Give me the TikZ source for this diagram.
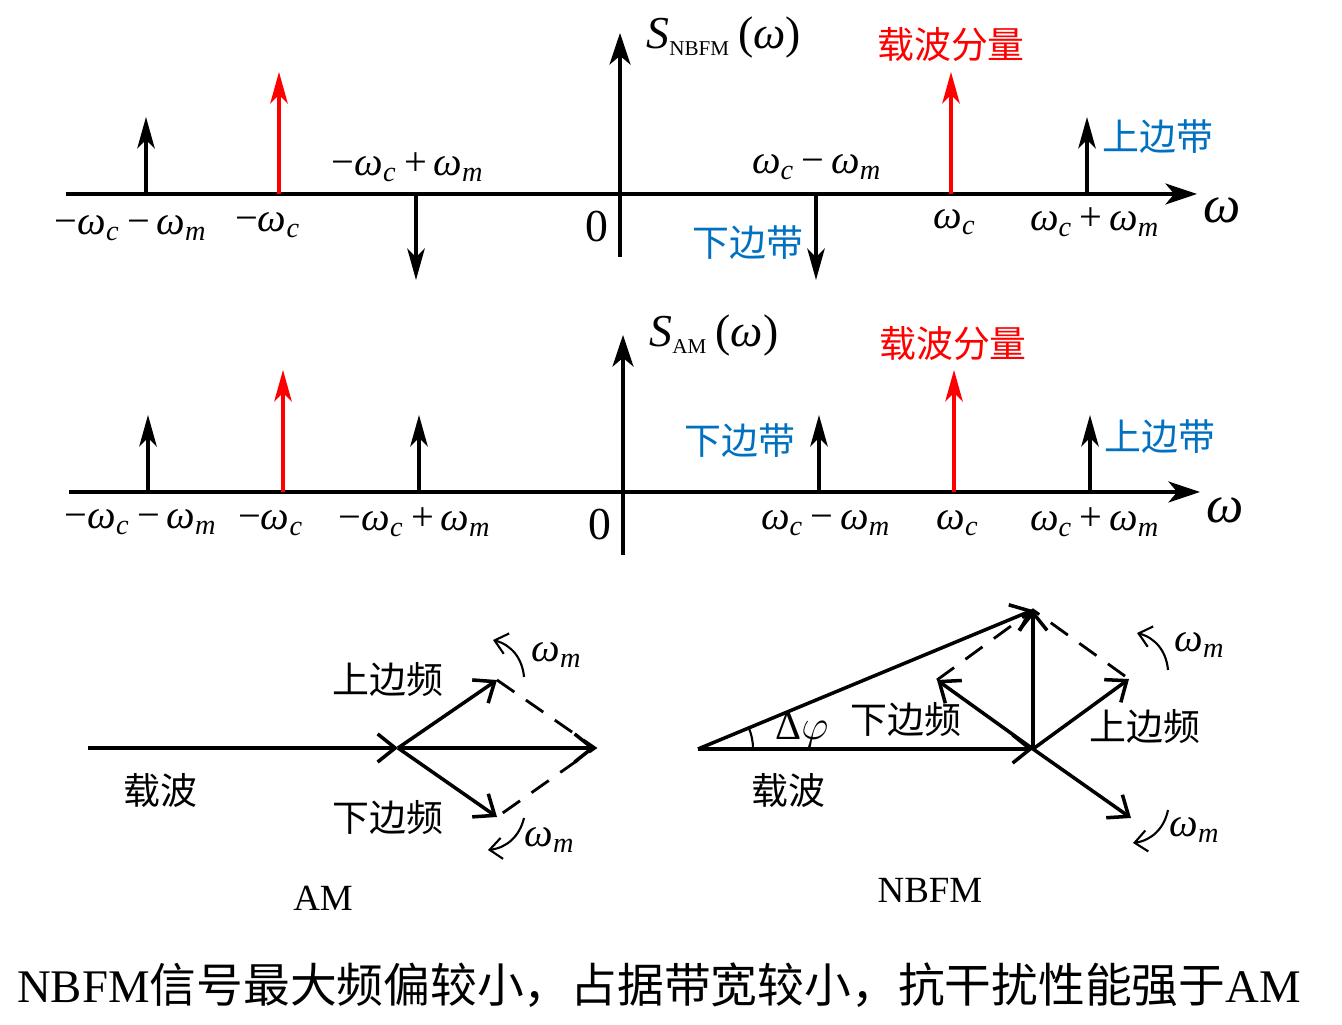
\documentclass[tikz,border=0pt]{standalone}
\usepackage{fontspec}
\setmainfont{Liberation Serif}
\newfontfamily\cjk{Noto Sans CJK SC}
\usepackage{xcolor}
\usetikzlibrary{arrows.meta,angles}
\definecolor{bandblue}{RGB}{0,112,192}
\newcommand{\wc}{{\itshape ω}\textsubscript{\itshape c}}
\newcommand{\wm}{{\itshape ω}\textsubscript{\itshape m}}
\newcommand{\mi}{\,−\,}
\newcommand{\pl}{\,+\,}

\begin{document}
\begin{tikzpicture}[x=0.01cm,y=-0.01cm,
    axis/.style={line width=0.9pt,-{Stealth[length=9pt,width=6pt,inset=2.5pt]}},
    spike/.style={line width=0.9pt,-{Stealth[length=9pt,width=5pt,inset=2.5pt]}},
    phasor/.style={line width=1pt,-{Straight Barb[length=5pt,width=8pt]}},
    helper/.style={line width=0.8pt,dash pattern=on 6pt off 4pt},
    turn/.style={line width=0.6pt,-{Straight Barb[length=3.5pt,width=6pt]}},
    lab/.style={font=\fontsize{11.5}{13}\selectfont},
    big/.style={font=\fontsize{13}{15}\selectfont},
    zh/.style={font=\fontsize{10.5}{12}\cjk}]
  \useasboundingbox (0,0) rectangle (1342,1025);
  % NBFM spectrum
  \draw[axis] (66,194) -- (1197,194);
  \draw[axis] (620,257) -- (620,33);
  \draw[spike] (146,194) -- (146,117);
  \draw[spike,red] (279,194) -- (279,72);
  \draw[spike] (416,194) -- (416,280);
  \draw[spike] (816,194) -- (816,280);
  \draw[spike,red] (951,194) -- (951,72);
  \draw[spike] (1087,194) -- (1087,117);
  \node[big,anchor=west] (sfm) at (634,38) {{\itshape S}\textsubscript{\fontsize{6}{7}\selectfont NBFM}\,({\itshape ω})};
  \node[zh,red] (cfm) at (951,45) {载波分量};
  \node[zh,bandblue] (ufm) at (1158,137) {上边带};
  \node[zh,bandblue] (lfm) at (748,243) {下边带};
  \node[lab] (fm1) at (131,228) {−\wc\mi\wm};
  \node[lab] (fm2) at (268,225) {−\wc};
  \node[lab] (fm3) at (408,167) {−\wc\pl\wm};
  \node[big] (fm0) at (597,227) {0};
  \node[lab] (fm4) at (817,167) {\wc\mi\wm};
  \node[lab] (fm5) at (955,222) {\wc};
  \node[lab] (fm6) at (1095,222) {\wc\pl\wm};
  \node[font=\fontsize{15}{17}\selectfont\itshape] (wfm) at (1222,210) {ω};
  % AM spectrum
  \draw[axis] (69,492) -- (1200,492);
  \draw[axis] (623,555) -- (623,335);
  \draw[spike] (148,492) -- (148,415);
  \draw[spike,red] (283,492) -- (283,370);
  \draw[spike] (419,492) -- (419,415);
  \draw[spike] (819,492) -- (819,415);
  \draw[spike,red] (954,492) -- (954,370);
  \draw[spike] (1090,492) -- (1090,415);
  \node[big,anchor=west] (sam) at (637,336) {{\itshape S}\textsubscript{\fontsize{6}{7}\selectfont AM}\,({\itshape ω})};
  \node[zh,red] (cam) at (953,344) {载波分量};
  \node[zh,bandblue] (uam) at (1160,437) {上边带};
  \node[zh,bandblue] (lam) at (740,441) {下边带};
  \node[lab] (am1) at (141,522) {−\wc\mi\wm};
  \node[lab] (am2) at (271,523) {−\wc};
  \node[lab] (am3) at (415,522) {−\wc\pl\wm};
  \node[big] (am0) at (600,525) {0};
  \node[lab] (am4) at (826,523) {\wc\mi\wm};
  \node[lab] (am5) at (958,523) {\wc};
  \node[lab] (am6) at (1095,522) {\wc\pl\wm};
  \node[font=\fontsize{15}{17}\selectfont\itshape] (wam) at (1225,510) {ω};
  % AM phasors
  \coordinate (amO) at (88,748);
  \coordinate (amJ) at (398,748);
  \coordinate (amR) at (595,748);
  \coordinate (amU) at (497,680);
  \coordinate (amL) at (497,817);
  \draw[phasor] (amO) -- (amJ);
  \draw[phasor] (amJ) -- (amR);
  \draw[phasor] (amJ) -- (amU);
  \draw[phasor] (amJ) -- (amL);
  \draw[helper] (amU) -- (amR) -- (amL);
  \draw[turn] (524,677) to[bend right=35] (493,640);
  \draw[turn] (524,818) to[bend left=35] (488,850);
  \node[zh] (amu) at (388,680) {上边频};
  \node[zh] (aml) at (388,818) {下边频};
  \node[zh] (amc) at (160,790) {载波};
  \node[lab] (amw1) at (557,655) {\wm};
  \node[lab] (amw2) at (550,840) {\wm};
  \node[font=\fontsize{10.5}{12}\selectfont] (amt) at (323,898) {AM};
  % NBFM phasors
  \coordinate (fmO) at (698,749);
  \coordinate (fmJ) at (1033,749);
  \coordinate (fmT) at (1033,610);
  \coordinate (fmL) at (937,680);
  \coordinate (fmU) at (1129,679);
  \coordinate (fmD) at (1131,818);
  \draw[phasor] (fmO) -- (fmJ);
  \draw[phasor] (fmO) -- (fmT);
  \draw[phasor] (fmJ) -- (fmT);
  \draw[phasor] (fmJ) -- (fmL);
  \draw[phasor] (fmJ) -- (fmU);
  \draw[phasor] (fmJ) -- (fmD);
  \draw[helper] (fmL) -- (fmT) -- (fmU);
  \pic[draw,line width=0.6pt,angle radius=0.55cm] {angle=fmJ--fmO--fmT};
  \draw[turn] (1168,670) to[bend right=35] (1137,633);
  \draw[turn] (1168,810) to[bend left=35] (1133,843);
  \node[lab] (dphi) at (802,730) {Δ$\varphi$};
  \node[zh] (fml) at (906,720) {下边频};
  \node[zh] (fmu) at (1145,727) {上边频};
  \node[zh] (fmc) at (788,790) {载波};
  \node[lab] (fmw1) at (1200,645) {\wm};
  \node[lab] (fmw2) at (1195,830) {\wm};
  \node[font=\fontsize{10.5}{12}\selectfont] (fmt) at (930,890) {NBFM};
  % conclusion
  \node[font=\fontsize{13.3}{15}\selectfont] (note) at (659,985) {NBFM{\cjk 信号最大频偏较小，占据带宽较小，抗干扰性能强于}AM};
\end{tikzpicture}
\end{document}
